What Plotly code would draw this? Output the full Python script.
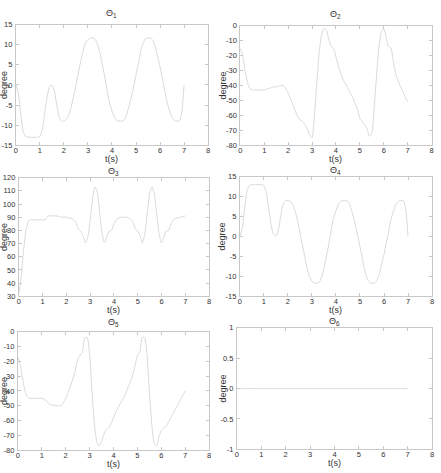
import plotly.graph_objects as go

W, H = 441, 473

t = [round(i * 0.1, 1) for i in range(71)]

theta1 = [0, -2, -7, -11.5, -12.8, -13, -13, -13, -13, -13,
          -12.8, -11, -7, -3, -0.5, 0, -1.5, -5, -8, -9,
          -9, -8.5, -7.5, -5.5, -3, 0, 3, 6, 8.5, 10.5,
          11.3, 11.7, 11.7, 11.3, 10, 8, 5, 2, -1.5, -4.5,
          -6.5, -8, -8.8, -9, -9, -8.8, -7.5, -5.5, -3, -0.5,
          2.5, 5.5, 8.5, 10.5, 11.5, 11.7, 11.7, 11, 9.5, 7,
          4.5, 1.5, -1.5, -4.5, -6.5, -8, -8.8, -9, -9, -7,
          0]

theta2 = [-15, -20, -30, -38, -42, -43, -43, -43, -43, -43,
          -43, -42.5, -42, -41.5, -41, -41, -40.5, -40, -40, -42,
          -45, -49, -53, -57, -61, -63, -64, -66, -69, -73,
          -75, -60, -38, -18, -6, -2, -3, -9, -14, -15,
          -21, -27, -32, -36, -39, -42, -45, -48, -52, -56,
          -62, -64, -66, -69, -74, -72, -55, -33, -14, -4,
          -2, -8, -14, -15, -24, -32, -37, -41, -44, -48,
          -51]

theta3 = [32, 45, 65, 80, 87, 88, 88, 88, 88, 88,
          88, 88, 90.5, 91, 91, 91, 91, 90.5, 90, 90,
          90, 89.5, 89, 88, 86, 81, 79.5, 76, 70.5, 75,
          88, 104, 113, 109, 93, 78, 70.5, 75, 79.5, 80,
          85, 88, 89.5, 90, 90, 90, 89.5, 88.5, 86, 81,
          79.5, 76, 70.5, 78, 93, 108, 113, 107, 92, 77,
          70.5, 75, 79.5, 80, 85, 88, 89, 89.5, 90, 90.5,
          91]

theta4 = [0, 2, 7, 11.5, 12.8, 13, 13, 13, 13, 13,
          12.8, 11, 7, 3, 0.5, 0, 1.5, 5, 8, 9,
          9, 8.8, 8, 6.5, 4, 1, -2, -5, -8, -10,
          -11.2, -11.7, -11.7, -11.5, -10.2, -8, -5, -2, 1.5, 4.5,
          6.5, 8, 8.8, 9, 9, 8.8, 7.5, 5.5, 3, 0.5,
          -2.5, -5.5, -8.5, -10.5, -11.5, -11.7, -11.7, -11, -9.5, -7,
          -4.5, -1.5, 1.5, 4.5, 6.5, 8, 8.8, 9, 9, 7,
          0]

theta5 = [-17, -22, -32, -40, -44, -45, -45, -45, -45, -45,
          -45, -45.5, -47, -48.5, -49.5, -49.5, -50, -50, -50, -48,
          -45, -41, -37, -32, -26, -19, -16, -14, -4, -4,
          -15, -40, -62, -74, -77, -74, -69, -66, -65, -62,
          -58, -54, -51, -48, -45, -42, -38, -34, -29, -23,
          -16, -14, -4, -4, -15, -40, -62, -75, -77, -71,
          -67, -65, -64, -61, -58, -55, -52, -49, -46, -43,
          -40]

theta6 = [0] * 71

series = [theta1, theta2, theta3, theta4, theta5, theta6]
titles = ["\u0398<sub>1</sub>", "\u0398<sub>2</sub>", "\u0398<sub>3</sub>",
          "\u0398<sub>4</sub>", "\u0398<sub>5</sub>", "\u0398<sub>6</sub>"]

x_ticks = [0, 1, 2, 3, 4, 5, 6, 7, 8]
y_ticks = [
    [-15, -10, -5, 0, 5, 10, 15],
    [-80, -70, -60, -50, -40, -30, -20, -10, 0],
    [30, 40, 50, 60, 70, 80, 90, 100, 110, 120],
    [-15, -10, -5, 0, 5, 10, 15],
    [-80, -70, -60, -50, -40, -30, -20, -10, 0],
    [-1, -0.5, 0, 0.5, 1],
]

def fmt(v):
    return "%g" % v

# pixel boxes: left, right, top, bottom
boxes = [
    (14, 208, 21, 144),
    (240.5, 433.5, 22, 144),
    (17, 209, 177, 298),
    (240, 434, 176, 298),
    (16, 209, 334, 455),
    (237, 434, 330, 454),
]
title_y = [10, 11, 171, 170, 325, 324]
xlabel_off = [13.5, 13.5, 14, 14, 13.5, 13.5]

LINE = "#d9d9d9"
AXC = "#c8c8c8"
TXT = "#333333"
FONT = "Liberation Sans, Arial, sans-serif"

fig = go.Figure()
annotations = []
layout = {}
for i, (ys, ttl, yt, box) in enumerate(zip(series, titles, y_ticks, boxes)):
    n = "" if i == 0 else str(i + 1)
    l, r, tp, bt = box
    fig.add_trace(go.Scatter(x=t, y=ys, mode="lines",
                             line=dict(color=LINE, width=1, shape="spline", smoothing=0.6),
                             xaxis="x" + n, yaxis="y" + n, showlegend=False, hoverinfo="skip"))
    common = dict(showline=True, linecolor=AXC, linewidth=1, mirror="ticks", ticks="inside",
                  ticklen=3, tickcolor=AXC, showgrid=False, zeroline=False,
                  tickfont=dict(family=FONT, size=7.5, color=TXT))
    layout["xaxis" + n] = dict(common, domain=[l / W, r / W], range=[0, 8],
                               tickvals=x_ticks, ticktext=[fmt(v) for v in x_ticks],
                               anchor="y" + n, ticklabelstandoff=-2)
    layout["yaxis" + n] = dict(common, domain=[1 - bt / H, 1 - tp / H], range=[yt[0], yt[-1]],
                               tickvals=yt, ticktext=[fmt(v) for v in yt],
                               anchor="x" + n, ticklabelstandoff=1)
    cx = (l + r) / 2 / W
    annotations.append(dict(text=ttl, x=cx, y=1 - title_y[i] / H, xref="paper", yref="paper",
                            showarrow=False, font=dict(family=FONT, size=9, color=TXT),
                            xanchor="center", yanchor="middle"))
    annotations.append(dict(text="t(s)", x=cx, y=1 - (bt + xlabel_off[i]) / H, xref="paper", yref="paper",
                            showarrow=False, font=dict(family=FONT, size=9, color=TXT),
                            xanchor="center", yanchor="middle"))
    ylx = 2 if i % 2 == 0 else 223
    annotations.append(dict(text="degree", x=ylx / W, y=1 - (tp + bt) / 2 / H, xref="paper", yref="paper",
                            showarrow=False, textangle=-90, font=dict(family=FONT, size=9, color=TXT),
                            xanchor="center", yanchor="middle"))

fig.update_layout(**layout)
fig.update_layout(width=W, height=H, margin=dict(l=0, r=0, t=0, b=0),
                  paper_bgcolor="white", plot_bgcolor="white",
                  annotations=annotations, showlegend=False)

fig.write_html("out.html")
